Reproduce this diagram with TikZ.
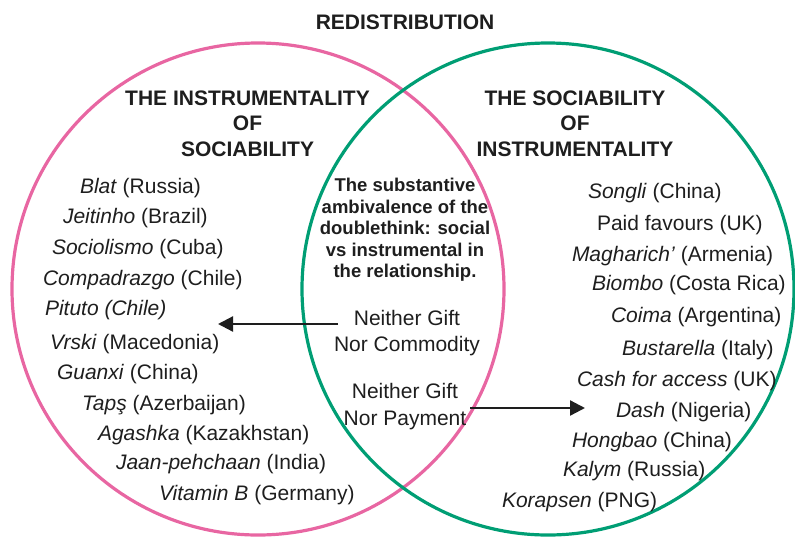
\documentclass[tikz,border=0pt]{standalone}
\usepackage{fontspec}
\setmainfont{Liberation Sans}
\usetikzlibrary{arrows.meta}
\definecolor{vpink}{RGB}{232,102,162}
\definecolor{vgreen}{RGB}{0,158,116}
\definecolor{ink}{RGB}{30,30,30}
\begin{document}
\begin{tikzpicture}[x=1pt,y=-1pt,
  every node/.style={inner sep=0pt,outer sep=0pt,text=ink},
  circ/.style={line width=3.2pt},
  item/.style={anchor=west,yshift=-1.5pt,font=\fontsize{21}{25}\selectfont},
  head/.style={align=center,font=\fontsize{21}{25.5}\selectfont\bfseries},
  mid/.style={align=center,font=\fontsize{18.5}{21.5}\selectfont\bfseries},
  neither/.style={align=center,font=\fontsize{21}{26.5}\selectfont},
  conn/.style={line width=2.3pt,draw=ink,-{Triangle[length=15pt,width=15pt]}}]
\useasboundingbox (0,0) rectangle (795,536);
% circles
\draw[circ,draw=vpink] (258,289) circle[radius=246];
\draw[circ,draw=vgreen] (548,289) circle[radius=246];
% title
\node[font=\fontsize{21}{25}\selectfont\bfseries] (title) at (405,22) {REDISTRIBUTION};
% headers
\node[head] (hl) at (247.5,123.5) {THE INSTRUMENTALITY\\OF\\SOCIABILITY};
\node[head] (hr) at (575,123.5) {THE SOCIABILITY\\OF\\INSTRUMENTALITY};
% middle
\node[mid] (mt) at (405,230) {The substantive\\ambivalence of the\\doublethink: social\\vs instrumental in\\the relationship.};
\node[neither] (ngc) at (407,333) {Neither Gift\\Nor Commodity};
\node[neither] (ngp) at (405,406.5) {Neither Gift\\Nor Payment};
% left list
\node[item] (l1) at (80,187) {\textit{Blat} (Russia)};
\node[item] (l2) at (63,217) {\textit{Jeitinho} (Brazil)};
\node[item] (l3) at (52,248) {\textit{Sociolismo} (Cuba)};
\node[item] (l4) at (43,279) {\textit{Compadrazgo} (Chile)};
\node[item] (l5) at (45,309) {\textit{Pituto (Chile)}};
\node[item] (l6) at (50,343) {\textit{Vrski} (Macedonia)};
\node[item] (l7) at (57,373) {\textit{Guanxi} (China)};
\node[item] (l8) at (82,404) {\textit{Tapş} (Azerbaijan)};
\node[item] (l9) at (98,434) {\textit{Agashka} (Kazakhstan)};
\node[item] (l10) at (116,463) {\textit{Jaan-pehchaan} (India)};
\node[item] (l11) at (159,494) {\textit{Vitamin B} (Germany)};
% right list
\node[item] (r1) at (588,192) {\textit{Songli} (China)};
\node[item] (r2) at (597,224) {Paid favours (UK)};
\node[item] (r3) at (572,255) {\textit{Magharich’} (Armenia)};
\node[item] (r4) at (592,284) {\textit{Biombo} (Costa Rica)};
\node[item] (r5) at (611,316) {\textit{Coima} (Argentina)};
\node[item] (r6) at (622,349) {\textit{Bustarella} (Italy)};
\node[item] (r7) at (577,380) {\textit{Cash for access} (UK)};
\node[item] (r8) at (616,411) {\textit{Dash} (Nigeria)};
\node[item] (r9) at (572,441) {\textit{Hongbao} (China)};
\node[item] (r10) at (563,470) {\textit{Kalym} (Russia)};
\node[item] (r11) at (502,501) {\textit{Korapsen} (PNG)};
% arrows
\coordinate (a1s) at (338,324);
\coordinate (a1e) at (218,324);
\coordinate (a2s) at (470,408);
\coordinate (a2e) at (585,408);
\draw[conn] (a1s) -- (a1e);
\draw[conn] (a2s) -- (a2e);
\end{tikzpicture}
\end{document}
